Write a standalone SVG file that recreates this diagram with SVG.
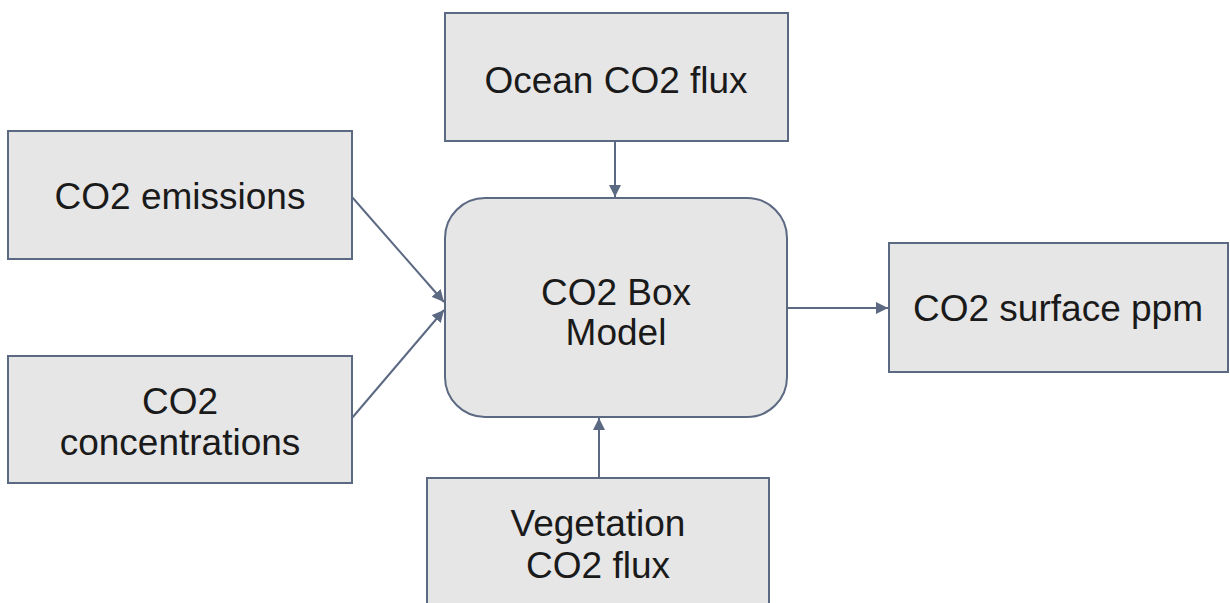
<svg xmlns="http://www.w3.org/2000/svg" width="1230" height="603" viewBox="0 0 1230 603">
<style>
.box{fill:#e6e6e6;stroke:#5b6982;stroke-width:2}
.lbl{font-family:"Liberation Sans",Arial,sans-serif;font-size:37px;fill:#1a1a1a;text-anchor:middle}
.con{stroke:#5b6982;stroke-width:2;fill:none;marker-end:url(#ah)}
</style>
<defs>
<marker id="ah" viewBox="0 0 10 10" refX="10" refY="5" markerWidth="6" markerHeight="6" markerUnits="strokeWidth" orient="auto">
<path d="M0,0 L10,5 L0,10 z" fill="#5b6982"/>
</marker>
</defs>
<rect width="1230" height="603" fill="#ffffff"/>
<g id="connectors">
<line class="con" x1="352" y1="197" x2="444" y2="302"/>
<line class="con" x1="352" y1="418" x2="444" y2="310"/>
<line class="con" x1="615" y1="141" x2="615" y2="197"/>
<line class="con" x1="599" y1="478" x2="599" y2="418"/>
<line class="con" x1="787" y1="308" x2="888" y2="308"/>
</g>
<g id="ocean">
<rect class="box" x="445" y="13" width="343" height="128"/>
<text class="lbl" x="616" y="93">Ocean CO2 flux</text>
</g>
<g id="emissions">
<rect class="box" x="8" y="131" width="344" height="128"/>
<text class="lbl" x="180" y="209">CO2 emissions</text>
</g>
<g id="concentrations">
<rect class="box" x="8" y="356" width="344" height="127"/>
<text class="lbl" x="180" y="414">CO2</text>
<text class="lbl" x="180" y="455">concentrations</text>
</g>
<g id="model">
<rect class="box" x="445" y="198" width="342" height="219" rx="40" ry="40"/>
<text class="lbl" x="616" y="305">CO2 Box</text>
<text class="lbl" x="616" y="345">Model</text>
</g>
<g id="surface">
<rect class="box" x="889" y="243" width="339" height="129"/>
<text class="lbl" x="1058" y="321">CO2 surface ppm</text>
</g>
<g id="vegetation">
<rect class="box" x="427" y="478" width="342" height="140"/>
<text class="lbl" x="598" y="536">Vegetation</text>
<text class="lbl" x="598" y="578">CO2 flux</text>
</g>
</svg>
